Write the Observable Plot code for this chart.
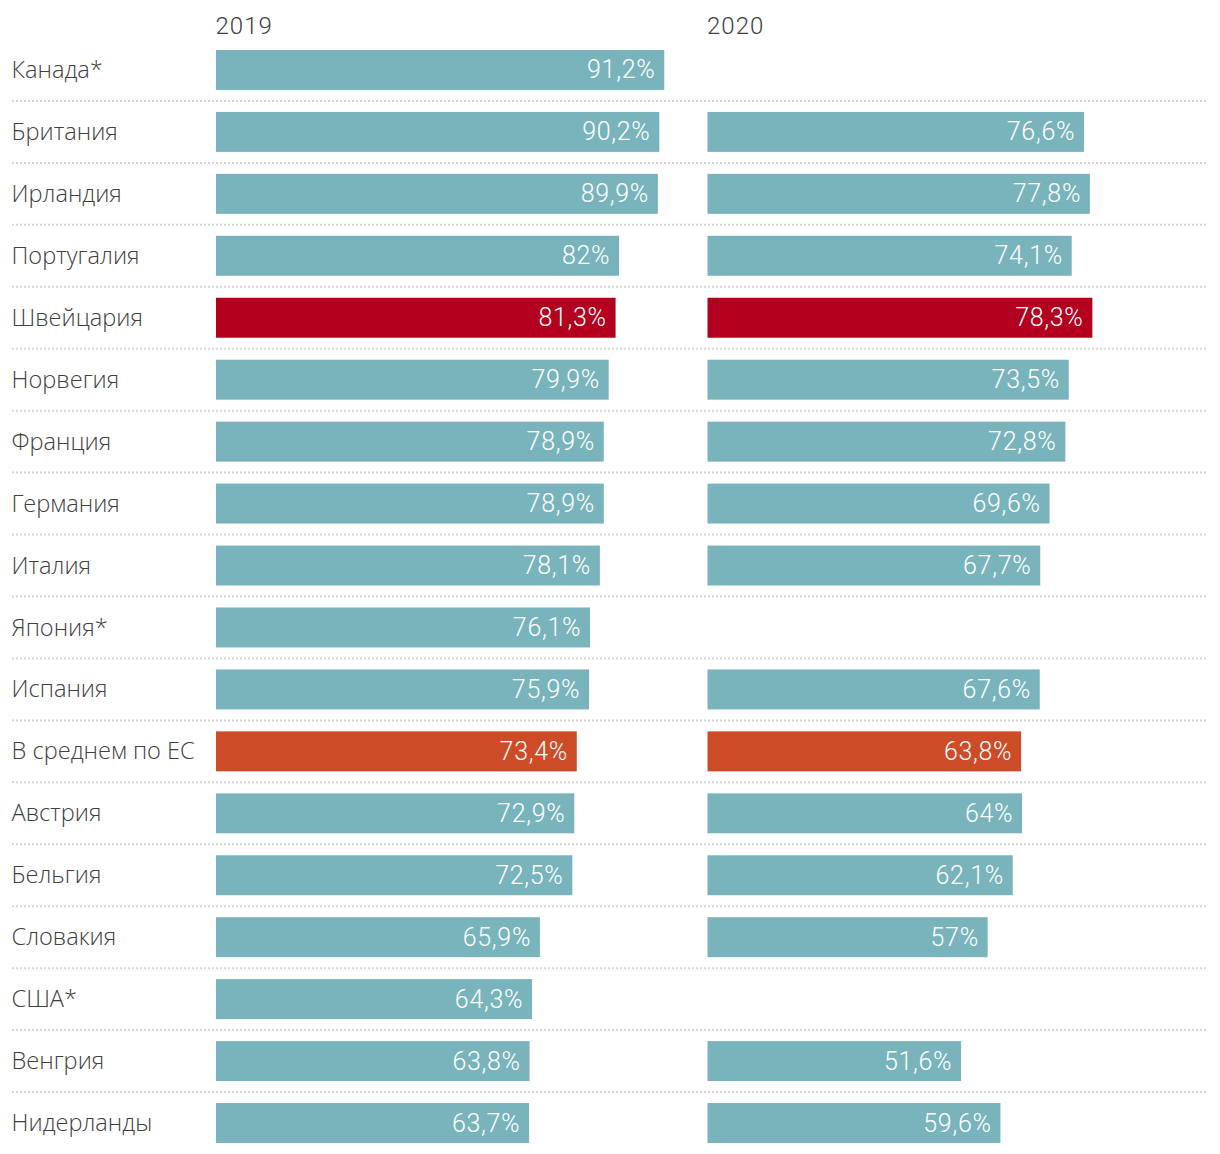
<!DOCTYPE html>
<html><head><meta charset="utf-8">
<script src="https://cdn.jsdelivr.net/npm/d3@7"></script>
<script src="https://cdn.jsdelivr.net/npm/@observablehq/plot@0.6"></script>
<style>body{margin:0;background:#fff} #chart svg{display:block}</style>
</head><body><div id="chart"></div>
<script>
const countries = ["Канада*","Британия","Ирландия","Португалия","Швейцария","Норвегия","Франция","Германия","Италия","Япония*","Испания","В среднем по ЕС","Австрия","Бельгия","Словакия","США*","Венгрия","Нидерланды"];
const values2019 = [91.2,90.2,89.9,82,81.3,79.9,78.9,78.9,78.1,76.1,75.9,73.4,72.9,72.5,65.9,64.3,63.8,63.7];
const values2020 = [null,76.6,77.8,74.1,78.3,73.5,72.8,69.6,67.7,null,67.6,63.8,64,62.1,57,null,51.6,59.6];
const years = ["2019","2020"];
const highlight = {"Швейцария":"#b3001f","В среднем по ЕС":"#cd4b27"};
const baseColor = "#79b4bc";

const rows = years.flatMap((yr, j) => countries.map((c, i) => ({country: c, year: yr, value: j ? values2020[i] : values2019[i]}))).filter(d => d.value != null);
const fmt = v => String(v).replace(".", ",") + "%";

const plot = Plot.plot({
  width: 1220, height: 1154,
  marginLeft: 216, marginRight: 21, marginTop: 39, marginBottom: 0,
  style: {fontFamily: "'Open Sans', sans-serif", background: "#fff"},
  fx: {domain: years, padding: 0, axis: null, round: false},
  x: {domain: [0, 100], axis: null},
  y: {domain: countries, axis: null, paddingInner: 22/62, paddingOuter: 11/62, align: 0.5, round: false},
  color: {type: "identity"},
  marks: [
    Plot.barX(rows, {fx: "year", y: "country", x: "value", fill: d => highlight[d.country] ?? baseColor}),
    Plot.text(rows, {fx: "year", y: "country", x: "value", text: d => fmt(d.value), textAnchor: "end", dx: -9.3, fill: "white", fontSize: 25, fontWeight: 300, fontFamily: "Roboto, sans-serif", ariaDescription: "values"}),
    Plot.text(countries, {fx: () => "2019", y: d => d, text: d => d, frameAnchor: "left", dx: -205, textAnchor: "start", fill: "#404040", fontSize: 23.6, fontWeight: 300}),
    Plot.text(years, {fx: d => d, text: d => d, frameAnchor: "top-left", lineAnchor: "middle", dy: -13, dx: -1, textAnchor: "start", fill: "#404040", fontSize: 24, fontWeight: 300, fontFamily: "Roboto, sans-serif", ariaDescription: "years"})
  ]
});
document.getElementById("chart").appendChild(plot);

// letter spacing for the numeric labels
const svg = d3.select(plot);
svg.selectAll("[aria-description='values']").style("letter-spacing", "0.7px");
svg.selectAll("[aria-description='years']").style("letter-spacing", "1px");

// dotted separators between rows, positioned from the plot's own y scale
const ys = plot.scale("y");
const yOf = c => ys.apply(c);
const step = yOf(countries[1]) - yOf(countries[0]);
const gap = step - (ys.bandwidth ?? step * (1 - 22/62));
const g = svg.insert("g", ":first-child");
countries.slice(1).forEach(c => {
  const y = yOf(c) - gap / 2;
  g.append("line").attr("x1", 12).attr("x2", 1208).attr("y1", y).attr("y2", y)
    .attr("stroke", "#d6d6d6").attr("stroke-width", 2).attr("stroke-dasharray", "2,2");
});
</script>
</body></html>
